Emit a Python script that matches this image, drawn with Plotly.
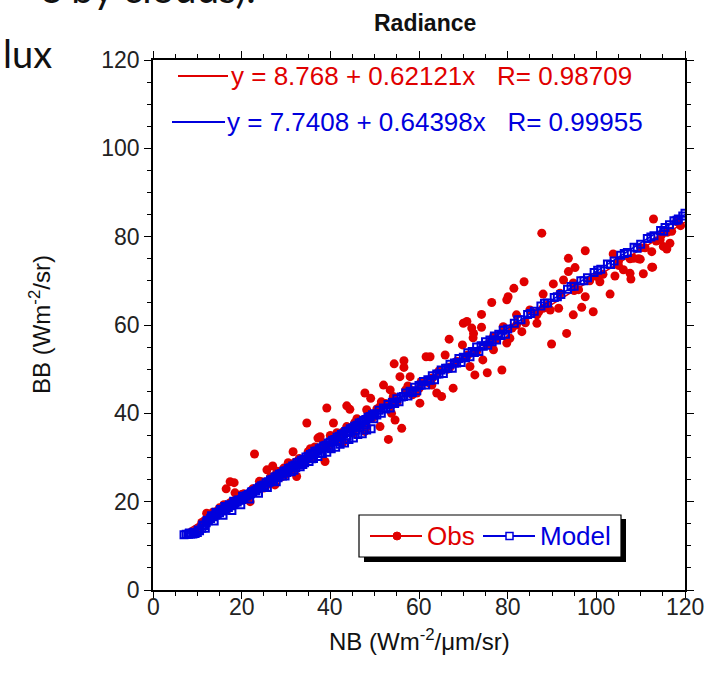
import plotly.graph_objects as go

# ---------------- data ----------------
obs_x = [9.5,10.5,11.5,12.1,12.5,13.5,14.5,15.0,15.5,16.6,16.5,17.4,18.3,18.5,17.5,18.5,19.5,20.0,21.0,21.9,
         22.5,22.9,23.5,24.5,25.0,25.7,26.5,27.0,27.5,28.0,28.5,29.5,30.0,30.5,31.6,31.0,32.4,33.0,33.5,34.3,
         34.7,35.0,36.0,36.5,37.2,37.7,38.8,38.5,39.2,39.5,40.7,40.7,41.5,42.8,43.7,43.7,44.4,45.2,45.5,46.5,
         47.8,47.8,48.2,48.2,49.1,49.5,50.5,51.2,51.2,52.0,52.5,53.1,53.5,53.8,54.2,54.4,54.6,55.7,56.1,56.6,
         56.6,57.0,58.0,58.5,59.5,60.2,60.5,61.6,62.5,62.0,62.9,64.0,64.5,65.1,65.9,66.5,66.8,67.7,68.5,69.8,
         70.0,70.8,70.4,71.5,71.9,72.3,72.2,72.6,73.0,74.1,74.1,74.4,75.4,75.5,76.4,76.8,76.8,77.5,78.7,79.0,
         79.8,79.8,80.1,80.5,81.4,81.0,82.0,83.2,83.7,84.0,85.0,86.6,86.6,87.0,87.7,88.0,89.0,89.6,89.9,90.3,
         91.5,91.8,92.6,93.3,93.7,93.7,94.8,94.8,95.2,96.0,96.7,97.5,97.5,98.5,99.3,100.8,101.5,103.1,103.8,104.2,
         105.0,106.1,107.6,107.6,107.8,108.4,109.5,109.9,110.6,111.0,112.5,112.5,112.7,112.9,113.5,114.4,114.7,115.1,115.9,116.6,
         117.0,118.1,119.0,63.0,67.0,71.0,76.0,82.0,88.0,95.0,100.0,105.0,110.0,116.0,
         14.0,20.5,26.0,29.0,32.0,36.0,42.0,44.5,50.0,55.0,58.0,61.0,
         11.0,13.0,16.0,19.0,22.0,24.0,27.5,30.5,33.5,35.5,38.0,40.0,43.0,46.0,48.5,51.5,54.0,57.5,60.0]
obs_y = [13.3,14.0,15.6,17.4,16.3,17.6,17.9,18.6,18.0,18.1,22.9,24.5,24.3,22.0,19.8,20.3,20.4,21.6,21.0,20.0,
         22.9,30.8,23.0,24.5,23.1,27.2,25.6,28.1,23.8,26.9,25.5,27.6,26.2,28.4,31.3,27.1,25.7,29.8,28.3,28.8,
         37.8,31.3,30.0,32.4,34.4,34.7,29.1,33.1,41.2,32.3,34.1,37.8,35.6,33.4,37.0,41.7,40.9,35.5,37.9,36.8,
         35.9,44.6,37.0,40.8,43.4,39.0,41.0,37.0,41.5,46.4,42.2,34.1,45.3,40.0,43.8,51.2,38.5,48.3,36.6,51.9,
         50.4,45.3,48.3,44.2,44.6,42.3,47.2,52.8,52.8,47.0,46.4,44.6,49.6,43.8,53.2,50.0,56.8,45.7,51.8,55.5,
         60.4,60.8,52.6,50.6,59.3,58.1,57.1,48.7,54.0,62.4,59.5,52.1,49.2,55.6,65.1,57.4,54.4,56.8,49.8,59.6,
         65.7,55.9,66.4,57.0,68.3,59.3,62.3,58.5,69.8,60.5,63.4,60.4,62.3,63.0,80.8,67.0,64.5,63.4,55.7,69.3,
         63.8,67.2,70.2,58.1,75.1,72.1,62.3,69.5,73.0,68.0,64.0,76.8,66.4,70.0,63.0,69.8,71.5,67.0,76.1,71.1,
         73.5,72.5,71.7,75.0,70.4,75.1,75.0,74.9,71.6,77.5,76.6,73.1,73.1,84.0,79.0,79.3,80.4,77.8,77.2,78.5,
         81.2,83.4,82.5,48.0,50.5,53.2,56.0,60.0,63.8,67.8,71.0,74.5,77.5,81.0,
         17.2,21.8,24.0,25.6,28.9,30.1,34.6,36.8,39.5,42.4,45.3,47.0,
         15.3,16.8,19.3,20.8,21.7,24.6,25.9,28.8,29.4,32.0,31.9,35.0,35.9,38.8,39.4,42.6,42.0,46.2,45.6]

model_x = [7.0,7.5,8.0,8.5,9.0,9.5,10.0,10.5,11.0,11.5,12.0,12.5,13.0,13.5,14.0,14.5,15.0,15.5,16.0,16.5,
           17.0,17.5,18.0,18.5,19.0,19.5,20.0,20.5,21.0,21.5,22.0,22.5,23.0,23.5,24.0,24.5,25.0,25.5,26.0,26.5,
           27.0,27.5,28.0,28.5,29.0,29.5,30.0,30.5,31.0,31.5,32.0,32.5,33.0,33.5,34.0,34.5,35.0,35.5,36.0,36.5,
           37.0,37.5,38.0,38.5,39.0,39.5,40.0,40.5,41.0,41.5,42.0,42.5,43.0,43.5,44.0,44.5,45.0,45.5,46.0,46.5,
           47.0,47.5,48.0,48.5,49.0,49.5,50.0,51.0,52.0,53.0,54.0,55.0,56.0,57.0,58.0,59.0,60.0,61.0,62.0,63.0,
           64.0,65.0,66.0,67.0,68.0,69.0,70.0,71.0,72.0,73.0,74.0,75.0,76.0,77.0,78.0,79.0,80.0,81.5,83.0,84.5,
           86.0,87.5,89.0,90.5,92.0,93.5,95.0,96.5,98.0,99.5,101.0,102.5,104.0,105.5,107.0,108.5,110.0,111.5,113.0,114.5,
           115.5,116.5,117.5,118.5,119.5,120.0,
           8.2,9.2,10.2,11.2,12.2,13.2,14.2,15.2,16.2,17.2,18.2,19.2,20.2,21.2,22.2,23.2,24.2,25.2,26.2,27.2,
           28.2,29.2,30.2,31.2,32.2,33.2,34.2,35.2,36.2,37.2,38.2,39.2,40.2,41.2,42.2,43.2,44.2,45.2,46.2,47.2,
           48.2,49.2,50.5,52.5,54.5,56.5,58.5,60.5,62.5,64.5,66.5,68.5,70.5,72.5,74.5,76.5,78.5,
           11.8,13.8,15.8,17.8,19.8,21.8,23.8,25.8,27.8,29.8,31.8,33.8,35.8,37.8,39.8,41.8,43.8,45.8,47.8,
           49.8,51.5,53.5,55.5,57.5,59.5,61.5,63.5,65.5,67.5,69.5,71.5,73.5,75.5,77.5,79.5,
           82.3,85.2,88.3,91.2,94.3,97.2,100.3,103.2,106.3,109.2,112.3,115.2,118.2]
model_y = [12.5,12.6,12.6,12.7,12.7,12.8,13.0,13.4,14.0,14.6,15.2,15.7,16.2,16.6,16.9,17.3,17.5,17.9,18.1,18.5,
           18.7,19.1,19.3,19.7,19.9,20.3,20.5,20.9,21.2,21.6,21.8,22.3,22.5,22.9,23.2,23.6,23.8,24.3,24.5,24.9,
           25.1,25.6,25.8,26.2,26.4,26.9,27.0,27.5,27.7,28.1,28.3,28.8,29.0,29.4,29.6,30.1,30.3,30.7,30.9,31.4,
           31.5,32.0,32.2,32.6,32.8,33.3,33.5,33.9,34.1,34.6,34.8,35.2,35.4,35.9,36.0,36.5,36.7,37.1,37.3,37.8,
           38.0,38.4,38.6,39.1,39.3,39.7,39.9,40.7,41.2,42.0,42.5,43.3,43.7,44.6,45.0,45.9,46.3,47.2,47.6,48.5,
           48.9,49.8,50.2,51.1,51.4,52.4,52.7,53.7,54.0,55.0,55.3,56.2,56.6,57.5,57.9,58.8,59.1,60.4,61.2,62.4,
           63.1,64.3,65.0,66.2,66.9,68.1,68.8,70.0,70.7,71.9,72.6,73.8,74.5,75.8,76.4,77.6,78.3,79.6,80.2,81.4,
           82.1,82.7,83.6,84.0,84.7,85.3,
           12.9,13.1,13.6,14.7,15.8,16.8,17.6,18.2,18.9,19.3,20.1,20.4,21.2,21.4,22.2,22.5,23.3,23.6,24.4,24.7,
           25.4,25.8,26.6,26.8,27.7,27.9,28.8,29.1,29.8,30.2,30.9,31.2,32.0,32.3,33.0,33.3,34.1,34.4,35.2,35.4,
           36.2,36.5,39.6,41.0,42.2,43.8,44.7,46.4,47.5,48.9,50.2,51.4,52.6,53.8,55.2,56.2,57.6,
           14.0,15.6,16.9,18.0,19.3,20.6,21.9,23.2,24.5,25.8,27.1,28.4,29.7,30.9,32.2,33.6,34.9,36.2,37.4,
           38.8,40.0,41.2,42.6,43.9,45.1,46.4,47.6,49.0,50.2,51.5,52.8,54.0,55.4,56.6,57.9,
           61.2,62.6,64.9,66.4,68.7,70.0,72.4,73.7,76.2,77.4,79.9,81.2,83.7]

# regression results shown on the chart
obs_fit = (8.768, 0.62121, 0.98709)
model_fit = (7.7408, 0.64398, 0.99955)
fit_x = [7.0, 120.0]

x_ticks = [0, 20, 40, 60, 80, 100, 120]
y_ticks = [0, 20, 40, 60, 80, 100, 120]

RED = "#e00000"
BLUE = "#0000dd"
FONT = "Liberation Sans, Arial, sans-serif"

fig = go.Figure()
fig.add_trace(go.Scatter(x=obs_x, y=obs_y, mode="markers", name="Obs",
                         marker=dict(color=RED, size=9, line=dict(width=0))))
fig.add_trace(go.Scatter(x=fit_x, y=[obs_fit[0] + obs_fit[1] * v for v in fit_x], mode="lines",
                         line=dict(color=RED, width=1.5), showlegend=False))
fig.add_trace(go.Scatter(x=model_x, y=model_y, mode="markers", name="Model",
                         marker=dict(color=BLUE, size=7, symbol="square-open",
                                     line=dict(color=BLUE, width=2))))
fig.add_trace(go.Scatter(x=fit_x, y=[model_fit[0] + model_fit[1] * v for v in fit_x], mode="lines",
                         line=dict(color=BLUE, width=1.5), showlegend=False))

W, H = 706, 681
L, R, T, B = 153, 21, 60, 91
PW, PH = W - L - R, H - T - B


def px(xp):
    return (xp - L) / PW


def py(yp):
    return (H - B - yp) / PH


shapes = []
annotations = []

# equation legend (top)
shapes.append(dict(type="line", xref="paper", yref="paper", x0=px(178), x1=px(228), y0=py(76), y1=py(76),
                   line=dict(color=RED, width=2)))
shapes.append(dict(type="line", xref="paper", yref="paper", x0=px(172), x1=px(225), y0=py(122), y1=py(122),
                   line=dict(color=BLUE, width=2)))
sp = "\u00a0"
annotations.append(dict(xref="paper", yref="paper", x=px(229), y=py(76), xanchor="left", yanchor="middle",
                        showarrow=False,
                        text=f"y = {obs_fit[0]} + {obs_fit[1]}x{sp*3}R= {obs_fit[2]}",
                        font=dict(family=FONT, size=26, color=RED)))
annotations.append(dict(xref="paper", yref="paper", x=px(225), y=py(122), xanchor="left", yanchor="middle",
                        showarrow=False,
                        text=f"y = {model_fit[0]} + {model_fit[1]}x{sp*3}R= {model_fit[2]}",
                        font=dict(family=FONT, size=26, color=BLUE)))

# bottom legend box with shadow
shapes.append(dict(type="rect", xref="paper", yref="paper", x0=px(364), x1=px(626), y0=py(562), y1=py(519),
                   fillcolor="black", line=dict(width=0)))
shapes.append(dict(type="rect", xref="paper", yref="paper", x0=px(359), x1=px(621), y0=py(557), y1=py(515),
                   fillcolor="white", line=dict(color="black", width=1.2)))
shapes.append(dict(type="line", xref="paper", yref="paper", x0=px(370), x1=px(422), y0=py(536), y1=py(536),
                   line=dict(color=RED, width=2)))
shapes.append(dict(type="circle", xref="paper", yref="paper", x0=px(393), x1=px(401), y0=py(540), y1=py(532),
                   fillcolor=RED, line=dict(color=RED, width=1)))
shapes.append(dict(type="line", xref="paper", yref="paper", x0=px(483), x1=px(535), y0=py(536), y1=py(536),
                   line=dict(color=BLUE, width=2)))
shapes.append(dict(type="rect", xref="paper", yref="paper", x0=px(506), x1=px(513), y0=py(539.5), y1=py(532.5),
                   fillcolor="white", line=dict(color=BLUE, width=1.5)))
annotations.append(dict(xref="paper", yref="paper", x=px(425), y=py(536), xanchor="left", yanchor="middle",
                        showarrow=False, text="Obs", font=dict(family=FONT, size=26, color=RED)))
annotations.append(dict(xref="paper", yref="paper", x=px(538), y=py(536), xanchor="left", yanchor="middle",
                        showarrow=False, text="Model", font=dict(family=FONT, size=26, color=BLUE)))

# x tick labels
for v in x_ticks:
    annotations.append(dict(xref="x", yref="paper", x=v, y=py(607), xanchor="center", yanchor="middle",
                            showarrow=False, text=str(v), font=dict(family=FONT, size=23, color="#222")))

# axis titles
annotations.append(dict(xref="paper", yref="paper", x=0.5, y=py(640), xanchor="center", yanchor="middle",
                        showarrow=False, text="NB (Wm<sup>-2</sup>/\u03bcm/sr)",
                        font=dict(family=FONT, size=24, color="#111")))
annotations.append(dict(xref="paper", yref="paper", x=px(40), y=py(325), xanchor="center", yanchor="middle",
                        showarrow=False, textangle=-90, text="BB (Wm<sup>-2</sup>/sr)",
                        font=dict(family=FONT, size=24, color="#111")))
# title
annotations.append(dict(xref="paper", yref="paper", x=px(425), y=py(23), xanchor="center", yanchor="middle",
                        showarrow=False, text="<b>Radiance</b>",
                        font=dict(family=FONT, size=23, color="#111")))
# slide background text fragments
annotations.append(dict(xref="paper", yref="paper", x=px(258), y=py(-12), xanchor="right", yanchor="middle",
                        showarrow=False, text="e by clouds).",
                        font=dict(family="Lato, sans-serif", size=40, color="#111")))
annotations.append(dict(xref="paper", yref="paper", x=px(1), y=py(53), xanchor="left", yanchor="middle",
                        showarrow=False, text="lux",
                        font=dict(family="Lato, sans-serif", size=38, color="#111")))

axis_common = dict(range=[0, 120], showgrid=False, zeroline=False, showline=True, linecolor="black",
                   linewidth=1.5, mirror="ticks", ticks="outside", ticklen=7, tickwidth=1.2,
                   tickcolor="black",
                   minor=dict(ticks="outside", ticklen=4, tickwidth=1.2, tickcolor="black", dtick=5))

fig.update_layout(
    width=W, height=H,
    margin=dict(l=L, r=R, t=T, b=B),
    paper_bgcolor="white", plot_bgcolor="white",
    showlegend=False,
    xaxis=dict(tickvals=x_ticks, showticklabels=False, **axis_common),
    yaxis=dict(tickvals=y_ticks, tickfont=dict(family=FONT, size=23, color="#222"), **axis_common),
    shapes=shapes,
    annotations=annotations,
)

fig.write_html("out.html")
